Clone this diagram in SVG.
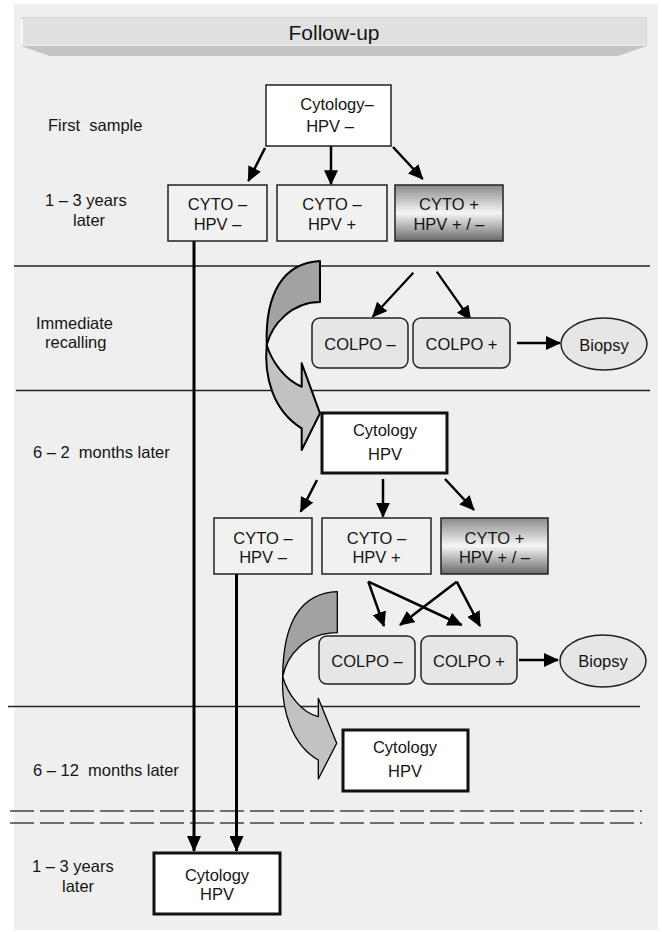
<svg xmlns="http://www.w3.org/2000/svg" width="662" height="932" viewBox="0 0 662 932">
<style>
text{font-family:"Liberation Sans",Arial,sans-serif;font-size:16.5px;fill:#151515;white-space:pre}
.m{text-anchor:middle}
.box{fill:#f1f1f1;stroke:#222;stroke-width:1.5}
.wbox{fill:#fff;stroke:#111;stroke-width:3}
.col{fill:#e6e6e6;stroke:#222;stroke-width:1.5}
.sep{stroke:#222;stroke-width:1.5;fill:none}
.dash{stroke:#444;stroke-width:1.5;fill:none;stroke-dasharray:24 6}
.c{stroke:#000;stroke-width:2.5;fill:none;marker-end:url(#ah)}
.v{stroke:#000;stroke-width:3;fill:none;marker-end:url(#ahv)}
.dk{fill:#a2a2a2;stroke:#000}
.lt{fill:#c2c2c2;stroke:#000}
</style>
<defs>
<marker id="ah" viewBox="0 0 15 14" refX="14" refY="7" markerWidth="15" markerHeight="14" markerUnits="userSpaceOnUse" orient="auto"><path d="M0,0 L15,7 L0,14 Z" fill="#000"/></marker>
<marker id="ahv" viewBox="0 0 16 14" refX="15" refY="7" markerWidth="16" markerHeight="14" markerUnits="userSpaceOnUse" orient="auto"><path d="M0,0 L16,7 L0,14 Z" fill="#000"/></marker>
<linearGradient id="gr" x1="0" y1="0" x2="0" y2="1"><stop offset="0" stop-color="#8a8a8a"/><stop offset="0.5" stop-color="#f6f6f6"/><stop offset="1" stop-color="#6a6a6a"/></linearGradient>
</defs>
<rect x="0" y="0" width="662" height="932" fill="#fff"/>
<rect x="14" y="4" width="644" height="926" fill="#efefef"/>
<g id="header">
<rect x="21" y="17" width="626" height="29" fill="#e0e0e0"/>
<line x1="21" y1="17.5" x2="647" y2="17.5" stroke="#d4d4d4" stroke-width="1"/>
<line x1="21" y1="45" x2="647" y2="45" stroke="#e8e8e8" stroke-width="2"/>
<line x1="22" y1="19" x2="22" y2="44" stroke="#fafafa" stroke-width="2"/>
<line x1="646.5" y1="18" x2="646.5" y2="46" stroke="#d2d2d2" stroke-width="1"/>
<polygon points="21,46 647,46 618,56 50,56" fill="#c4c4c4"/>
<text class="m" x="334" y="40" style="font-size:21px">Follow-up</text>
</g>
<g id="labels">
<text x="48" y="131">First  sample</text>
<text x="45" y="206">1 – 3 years</text>
<text x="73" y="226">later</text>
<text x="36" y="329">Immediate</text>
<text x="45" y="348">recalling</text>
<text x="33" y="458">6 – 2  months later</text>
<text x="33" y="776">6 – 12  months later</text>
<text x="32" y="872">1 – 3 years</text>
<text x="62" y="892">later</text>
</g>
<g id="separators">
<line class="sep" x1="14" y1="266" x2="650" y2="266"/>
<line class="sep" x1="16" y1="390.5" x2="650" y2="390.5"/>
<line class="sep" x1="8" y1="706.5" x2="640" y2="706.5"/>
<line class="dash" x1="10" y1="811" x2="642" y2="811"/>
<line class="dash" x1="10" y1="823" x2="642" y2="823"/>
</g>
<g id="curved-arrow-1" stroke-width="2" stroke-linejoin="round">
<path class="dk" d="M320,261 C284,263 265,292 266.7,345 C272,324 292,302 320,302 Z"/>
<path class="lt" d="M266.7,345 C264,375 272,410 301.7,428.3 L301.7,450 L320,413.3 L301.7,363.3 L301.7,386.7 C285,380 272,362 266.7,345 Z"/>
</g>
<g id="curved-arrow-2" stroke-width="1.3" stroke-linejoin="round">
<path class="dk" d="M337.3,591.7 C305,593 283,615 282.7,676.7 C287,655 305,633 337.3,632.7 Z"/>
<path class="lt" d="M282.7,676.7 C281,710 292,745 318.3,760 L318.3,779 L336.7,743.3 L318.3,698.3 L318.3,716.7 C302,713 288,695 282.7,676.7 Z"/>
</g>
<g id="connectors">
<line class="c" x1="265" y1="148" x2="248.3" y2="181"/>
<line class="c" x1="331" y1="146" x2="331" y2="184.3"/>
<line class="c" x1="393" y1="147" x2="422.7" y2="179"/>
<line class="c" x1="413.3" y1="272.7" x2="372.7" y2="316.7" style="stroke-width:2.2"/>
<line class="c" x1="436.7" y1="271.7" x2="470.7" y2="320" style="stroke-width:2.2"/>
<line class="c" x1="517" y1="343" x2="560" y2="343"/>
<line class="c" x1="317" y1="480" x2="300.7" y2="511.7"/>
<line class="c" x1="383" y1="479" x2="383" y2="516.7"/>
<line class="c" x1="445" y1="479" x2="474" y2="510"/>
<line class="c" x1="368.3" y1="581.7" x2="384" y2="626"/>
<line class="c" x1="368.3" y1="581.7" x2="461.7" y2="625"/>
<line class="c" x1="456.7" y1="581.7" x2="400" y2="625"/>
<line class="c" x1="456.7" y1="581.7" x2="480" y2="626"/>
<line class="c" x1="519" y1="660" x2="558" y2="660"/>
<line class="v" x1="194" y1="241" x2="194" y2="851"/>
<line class="v" x1="236.5" y1="574" x2="236.5" y2="851"/>
</g>
<g id="n-first">
<rect x="266" y="85" width="125" height="61" fill="#fff" stroke="#222" stroke-width="1.5"/>
<text class="m" x="337" y="110">Cytology–</text>
<text class="m" x="330" y="132">HPV –</text>
</g>
<g id="n-r1a"><rect class="box" x="168" y="185" width="99" height="56"/><text class="m" x="217.5" y="210">CYTO –</text><text class="m" x="217.5" y="230">HPV –</text></g>
<g id="n-r1b"><rect class="box" x="277" y="185" width="110" height="56"/><text class="m" x="332" y="210">CYTO –</text><text class="m" x="332" y="230">HPV +</text></g>
<g id="n-r1c"><rect x="395" y="185" width="108" height="56" fill="url(#gr)" stroke="#222" stroke-width="1.5"/><text class="m" x="449" y="210">CYTO +</text><text class="m" x="449" y="230">HPV + / –</text></g>
<g id="n-colpo1m"><rect class="col" x="312" y="318" width="96" height="50" rx="8"/><text class="m" x="360" y="350">COLPO –</text></g>
<g id="n-colpo1p"><rect class="col" x="413" y="318" width="97" height="50" rx="8"/><text class="m" x="461.5" y="350">COLPO +</text></g>
<g id="n-biopsy1"><ellipse class="col" cx="604" cy="344" rx="43" ry="26"/><text class="m" x="604" y="351">Biopsy</text></g>
<g id="n-cyto2"><rect class="wbox" x="322" y="413" width="125" height="60"/><text class="m" x="385" y="436">Cytology</text><text class="m" x="385" y="460">HPV</text></g>
<g id="n-r2a"><rect class="box" x="214" y="518" width="98" height="56"/><text class="m" x="263" y="544">CYTO –</text><text class="m" x="263" y="563">HPV –</text></g>
<g id="n-r2b"><rect class="box" x="322" y="518" width="109" height="56"/><text class="m" x="376.5" y="544">CYTO –</text><text class="m" x="376.5" y="563">HPV +</text></g>
<g id="n-r2c"><rect x="441" y="518" width="107" height="56" fill="url(#gr)" stroke="#222" stroke-width="1.5"/><text class="m" x="494.5" y="544">CYTO +</text><text class="m" x="494.5" y="563">HPV + / –</text></g>
<g id="n-colpo2m"><rect class="col" x="319" y="636" width="96" height="48" rx="8"/><text class="m" x="367" y="667">COLPO –</text></g>
<g id="n-colpo2p"><rect class="col" x="421" y="636" width="96" height="48" rx="8"/><text class="m" x="469" y="667">COLPO +</text></g>
<g id="n-biopsy2"><ellipse class="col" cx="603" cy="661" rx="43" ry="26"/><text class="m" x="603" y="667">Biopsy</text></g>
<g id="n-cyto3"><rect class="wbox" x="343" y="730" width="125" height="61"/><text class="m" x="405" y="753">Cytology</text><text class="m" x="405" y="777">HPV</text></g>
<g id="n-cyto4"><rect class="wbox" x="154" y="853" width="126" height="61"/><text class="m" x="217" y="881">Cytology</text><text class="m" x="217" y="900">HPV</text></g>
</svg>
